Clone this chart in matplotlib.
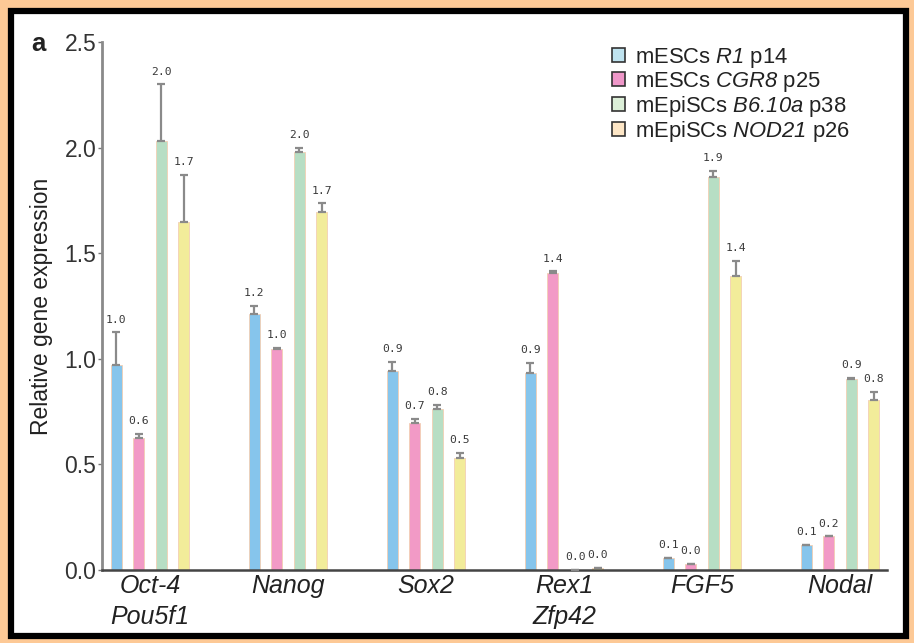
import matplotlib
matplotlib.use("Agg")
import matplotlib.pyplot as plt
from matplotlib.patches import Rectangle, Patch
import numpy as np

plt.rcParams['font.family'] = ['Liberation Sans', 'DejaVu Sans']
plt.rcParams['mathtext.fontset'] = 'custom'
plt.rcParams['mathtext.it'] = 'Liberation Sans:italic'
plt.rcParams['mathtext.rm'] = 'Liberation Sans:italic'
plt.rcParams['mathtext.default'] = 'rm'

# ---------------- data ----------------
genes = ["Oct-4\nPou5f1", "Nanog", "Sox2", "Rex1\nZfp42", "FGF5", "Nodal"]
series_names = [r"mESCs $R1$ p14", r"mESCs $CGR8$ p25",
                r"mEpiSCs $B6.10a$ p38", r"mEpiSCs $NOD21$ p26"]

r1_vals     = [0.97, 1.21, 0.94, 0.935, 0.058, 0.118]
cgr8_vals   = [0.625, 1.047, 0.695, 1.405, 0.028, 0.16]
b610_vals   = [2.03, 1.98, 0.763, 0.0, 1.86, 0.905]
nod21_vals  = [1.65, 1.697, 0.53, 0.01, 1.393, 0.805]

r1_err      = [0.155, 0.04, 0.045, 0.045, 0.0, 0.0]
cgr8_err    = [0.02, 0.004, 0.02, 0.01, 0.0, 0.0]
b610_err    = [0.27, 0.02, 0.02, 0.0, 0.03, 0.004]
nod21_err   = [0.22, 0.04, 0.025, 0.0, 0.07, 0.04]

r1_lbl      = ["1.0", "1.2", "0.9", "0.9", "0.1", "0.1"]
cgr8_lbl    = ["0.6", "1.0", "0.7", "1.4", "0.0", "0.2"]
b610_lbl    = ["2.0", "2.0", "0.8", "0.0", "1.9", "0.9"]
nod21_lbl   = ["1.7", "1.7", "0.5", "0.0", "1.4", "0.8"]

y_ticks = [0.0, 0.5, 1.0, 1.5, 2.0, 2.5]

values = [r1_vals, cgr8_vals, b610_vals, nod21_vals]
errors = [r1_err, cgr8_err, b610_err, nod21_err]
labels = [r1_lbl, cgr8_lbl, b610_lbl, nod21_lbl]

bar_colors = ["#86C5EC", "#F29AC6", "#B7DEC4", "#F2EC9A"]
legend_colors = ["#BFE3EF", "#EF97C9", "#DCEFD8", "#FDE6C6"]

# ---------------- figure ----------------
W, H = 914, 643
fig = plt.figure(figsize=(W / 100, H / 100), dpi=100)
fig.patch.set_facecolor("#FDC996")

# black frame with white interior
fig.patches.append(Rectangle((11 / W, 1 - 636 / H), (906 - 11) / W, (636 - 11) / H,
                             transform=fig.transFigure, facecolor="white",
                             edgecolor="black", linewidth=4.5, zorder=-5))

ax = fig.add_axes([102 / W, 1 - 570 / H, (887 - 102) / W, (570 - 42) / H])
ax.set_facecolor("none")
ax.set_zorder(2)

x = np.arange(len(genes))
spacing = 0.163
width = 0.078
offsets = [-1.5, -0.5, 0.5, 1.5]

for i in range(4):
    xs = x + offsets[i] * spacing
    ax.bar(xs, values[i], width=width, color=bar_colors[i],
           edgecolor="#F3CFB3", linewidth=0.6, zorder=2)
    ax.errorbar(xs, values[i], yerr=[np.zeros(len(genes)), errors[i]],
                fmt="none", ecolor="#8A8A8A", elinewidth=1.6, capsize=3.2,
                capthick=1.6, zorder=3)
    for xi, v, e, t in zip(xs, values[i], errors[i], labels[i]):
        ax.annotate(t, (xi, v + e), xytext=(0, 5.5), textcoords="offset points",
                    ha="center", va="bottom", fontsize=8.2,
                    family="DejaVu Sans Mono", color="#3A3A3A", zorder=4)

ax.set_ylim(0, 2.5)
ax.set_xlim(-0.348, 5.34)
ax.set_yticks(y_ticks)
ax.set_yticklabels([f"{t:.1f}" for t in y_ticks], fontsize=16.5, color="#333333")
ax.tick_params(axis="y", length=3, width=1, color="#777777", pad=1)
ax.set_xticks(x)
ax.set_xticklabels(genes, fontsize=18, fontstyle="italic", color="#222222",
                   linespacing=1.35)
ax.tick_params(axis="x", length=0, pad=3)

for s in ["top", "right"]:
    ax.spines[s].set_visible(False)
ax.spines["left"].set_color("#8A8A8A")
ax.spines["left"].set_linewidth(2)
ax.spines["bottom"].set_color("#444444")
ax.spines["bottom"].set_linewidth(1.8)

ax.set_ylabel("Relative gene expression", fontsize=16.5, color="#222222",
              labelpad=8)

fig.text(31 / W, 1 - 44 / H, "a", fontsize=18.5, fontweight="bold",
         va="center", ha="left", color="#222222")

handles = [Patch(facecolor=c, edgecolor="#333333", linewidth=1.2) for c in legend_colors]
leg = fig.legend(handles, series_names, loc="upper left",
                 bbox_to_anchor=(612 / W, 1 - 46 / H), frameon=False,
                 fontsize=15.8, labelspacing=0.0, handlelength=0.58,
                 handleheight=0.58, handletextpad=0.45, borderpad=0,
                 borderaxespad=0)
leg.set_zorder(5)
for t in leg.get_texts():
    t.set_color("#222222")

fig.savefig("out.png", dpi=100, facecolor=fig.get_facecolor())
